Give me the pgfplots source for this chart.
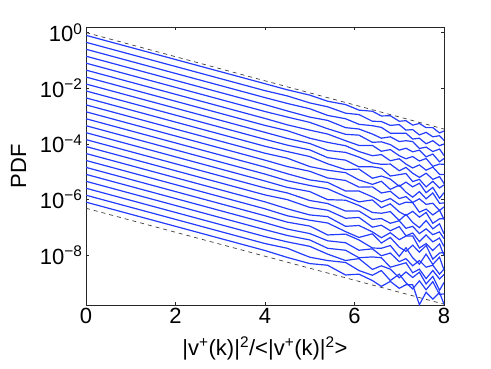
\documentclass[border=0pt]{standalone}
\usepackage{fontspec}
\setmainfont{Liberation Sans}
\usepackage{pgfplots}
\pgfplotsset{compat=1.18}
\definecolor{mblue}{RGB}{35,60,255}
\tikzset{pdfline/.style={color=mblue, line width=1.2pt}}
% y values are log10(PDF); the axis is labelled in decades

\begin{document}
\begin{tikzpicture}
\begin{axis}[
    scale only axis,
    width=358pt, height=278pt,
    xmin=0, xmax=8, ymin=-9.8, ymax=0.2,
    xtick={0,2,4,6,8}, xticklabels={0,2,4,6,8},
    ytick={-8,-6,-4,-2,0},
    yticklabels={10\textsuperscript{−8},10\textsuperscript{−6},10\textsuperscript{−4},10\textsuperscript{−2},10\textsuperscript{0}},
    minor tick num=0,
    tick align=inside, major tick length=3pt,
    tick style={black!85, thin},
    axis line style={black!85, thin},
    ticklabel style={font=\fontsize{22}{24}\selectfont},
    label style={font=\fontsize{22}{24}\selectfont},
    xlabel={|v\textsuperscript{+}(k)|\textsuperscript{2}/<|v\textsuperscript{+}(k)|\textsuperscript{2}>},
    ylabel={PDF},
    xlabel style={yshift=-6pt},
    ylabel shift=7pt,
]
% reference slopes
\addplot[black!75, line width=0.7pt, dash pattern=on 4pt off 4pt] coordinates {(0,0) (8,-3.47)};
\addplot[black!75, line width=0.7pt, dash pattern=on 4pt off 4pt] coordinates {(0,-6.32) (8,-9.77)};

\addplot[pdfline] coordinates {(0,-0.10)(2,-0.97)(4,-1.84)(4.5,-2.06)(5,-2.25)(5.4,-2.47)(5.8,-2.59)(6.1,-2.79)(6.4,-2.83)(6.6,-3.00)(6.8,-2.99)(7,-3.19)(7.15,-3.17)(7.3,-3.33)(7.45,-3.27)(7.6,-3.42)(7.75,-3.42)(7.9,-3.61)(8,-3.54)};
\addplot[pdfline] coordinates {(0,-0.35)(2,-1.22)(4,-2.09)(4.5,-2.28)(5,-2.53)(5.4,-2.67)(5.8,-2.90)(6.1,-2.95)(6.4,-3.19)(6.6,-3.20)(6.8,-3.34)(7,-3.31)(7.15,-3.51)(7.3,-3.49)(7.45,-3.68)(7.6,-3.59)(7.75,-3.75)(7.9,-3.71)(8,-3.88)};
\addplot[pdfline] coordinates {(0,-0.60)(2,-1.47)(4,-2.34)(4.5,-2.55)(5,-2.74)(5.4,-2.98)(5.8,-3.10)(6.1,-3.30)(6.4,-3.35)(6.6,-3.41)(6.8,-3.62)(7,-3.62)(7.15,-3.62)(7.3,-3.83)(7.45,-3.80)(7.6,-4.00)(7.75,-3.89)(7.9,-4.07)(8,-4.01)};
\addplot[pdfline] coordinates {(0,-0.85)(2,-1.72)(4,-2.59)(4.5,-2.82)(5,-3.04)(5.4,-3.16)(5.8,-3.42)(6.1,-3.47)(6.4,-3.65)(6.6,-3.80)(6.8,-3.75)(7,-3.92)(7.15,-3.89)(7.3,-3.92)(7.45,-4.17)(7.6,-4.12)(7.75,-4.28)(7.9,-4.19)(8,-4.42)};
\addplot[pdfline] coordinates {(0,-1.10)(2,-1.97)(4,-2.84)(4.5,-3.04)(5,-3.23)(5.4,-3.46)(5.8,-3.66)(6.1,-3.69)(6.4,-3.95)(6.6,-3.93)(6.8,-4.03)(7,-4.23)(7.15,-4.16)(7.3,-4.29)(7.45,-4.23)(7.6,-4.47)(7.75,-4.37)(7.9,-4.65)(8,-4.53)};
\addplot[pdfline] coordinates {(0,-1.35)(2,-2.22)(4,-3.09)(4.5,-3.32)(5,-3.51)(5.4,-3.65)(5.8,-3.89)(6.1,-4.06)(6.4,-4.06)(6.6,-4.27)(6.8,-4.21)(7,-4.43)(7.15,-4.54)(7.3,-4.46)(7.45,-4.62)(7.6,-4.53)(7.75,-4.81)(7.9,-4.73)(8,-4.74)};
\addplot[pdfline] coordinates {(0,-1.60)(2,-2.47)(4,-3.34)(4.5,-3.53)(5,-3.80)(5.4,-3.95)(5.8,-4.07)(6.1,-4.28)(6.4,-4.43)(6.6,-4.39)(6.8,-4.61)(7,-4.54)(7.15,-4.73)(7.3,-4.87)(7.45,-4.76)(7.6,-4.95)(7.75,-4.84)(7.9,-5.10)(8,-5.11)};
\addplot[pdfline] coordinates {(0,-1.85)(2,-2.72)(4,-3.59)(4.5,-3.81)(5,-3.99)(5.4,-4.24)(5.8,-4.31)(6.1,-4.48)(6.4,-4.69)(6.6,-4.74)(6.8,-4.73)(7,-4.97)(7.15,-4.85)(7.3,-5.06)(7.45,-5.21)(7.6,-5.06)(7.75,-5.28)(7.9,-5.18)(8,-5.43)};
\addplot[pdfline] coordinates {(0,-2.10)(2,-2.97)(4,-3.84)(4.5,-4.05)(5,-4.22)(5.4,-4.50)(5.8,-4.59)(6.1,-4.83)(6.4,-4.83)(6.6,-4.88)(6.8,-5.16)(7,-5.11)(7.15,-5.07)(7.3,-5.36)(7.45,-5.28)(7.6,-5.55)(7.75,-5.35)(7.9,-5.59)(8,-5.48)};
\addplot[pdfline] coordinates {(0,-2.35)(2,-3.22)(4,-4.09)(4.5,-4.28)(5,-4.46)(5.4,-4.72)(5.8,-4.93)(6.1,-4.91)(6.4,-5.24)(6.6,-5.16)(6.8,-5.27)(7,-5.53)(7.15,-5.38)(7.3,-5.55)(7.45,-5.42)(7.6,-5.76)(7.75,-5.57)(7.9,-5.96)(8,-5.76)};
\addplot[pdfline] coordinates {(0,-2.60)(2,-3.47)(4,-4.34)(4.5,-4.52)(5,-4.82)(5.4,-4.95)(5.8,-5.04)(6.1,-5.30)(6.4,-5.46)(6.6,-5.35)(6.8,-5.64)(7,-5.49)(7.15,-5.74)(7.3,-5.92)(7.45,-5.72)(7.6,-5.98)(7.75,-5.77)(7.9,-6.14)(8,-6.13)};
\addplot[pdfline] coordinates {(0,-2.85)(2,-3.72)(4,-4.59)(4.5,-4.82)(5,-4.99)(5.4,-5.23)(5.8,-5.32)(6.1,-5.56)(6.4,-5.55)(6.6,-5.77)(6.8,-5.71)(7,-5.97)(7.15,-5.90)(7.3,-6.11)(7.45,-5.98)(7.6,-6.18)(7.75,-6.14)(7.9,-6.40)(8,-6.27)};
\addplot[pdfline] coordinates {(0,-3.10)(2,-3.97)(4,-4.84)(4.5,-5.08)(5,-5.30)(5.4,-5.39)(5.8,-5.70)(6.1,-5.70)(6.4,-5.91)(6.6,-6.09)(6.8,-5.97)(7,-6.19)(7.15,-6.10)(7.3,-6.12)(7.45,-6.46)(7.6,-6.35)(7.75,-6.56)(7.9,-6.39)(8,-6.72)};
\addplot[pdfline] coordinates {(0,-3.35)(2,-4.22)(4,-5.09)(4.5,-5.33)(5,-5.50)(5.4,-5.62)(5.8,-5.90)(6.1,-6.09)(6.4,-6.02)(6.6,-6.30)(6.8,-6.16)(7,-6.45)(7.15,-6.58)(7.3,-6.43)(7.45,-6.64)(7.6,-6.47)(7.75,-6.86)(7.9,-6.70)(8,-6.70)};
\addplot[pdfline] coordinates {(0,-3.60)(2,-4.47)(4,-5.34)(4.5,-5.57)(5,-5.72)(5.4,-6.01)(5.8,-6.03)(6.1,-6.22)(6.4,-6.47)(6.6,-6.50)(6.8,-6.44)(7,-6.76)(7.15,-6.54)(7.3,-6.83)(7.45,-7.02)(7.6,-6.76)(7.75,-7.06)(7.9,-6.88)(8,-7.24)};
\addplot[pdfline] coordinates {(0,-3.85)(2,-4.72)(4,-5.59)(4.5,-5.77)(5,-6.04)(5.4,-6.15)(5.8,-6.42)(6.1,-6.42)(6.4,-6.72)(6.6,-6.69)(6.8,-6.86)(7,-6.77)(7.15,-7.04)(7.3,-6.97)(7.45,-7.23)(7.6,-7.06)(7.75,-7.27)(7.9,-7.17)(8,-7.41)};
\addplot[pdfline] coordinates {(0,-4.10)(2,-4.97)(4,-5.84)(4.5,-6.01)(5,-6.29)(5.4,-6.39)(5.8,-6.68)(6.1,-6.65)(6.4,-7.00)(6.6,-6.93)(6.8,-7.13)(7,-6.98)(7.15,-7.31)(7.3,-7.21)(7.45,-7.52)(7.6,-7.28)(7.75,-7.53)(7.9,-7.39)(8,-7.69)};
\addplot[pdfline] coordinates {(0,-4.35)(2,-5.22)(4,-6.09)(4.5,-6.34)(5,-6.56)(5.4,-6.62)(5.8,-6.97)(6.1,-6.94)(6.4,-7.17)(6.6,-7.38)(6.8,-7.20)(7,-7.45)(7.15,-7.32)(7.3,-7.32)(7.45,-7.75)(7.6,-7.59)(7.75,-7.84)(7.9,-7.60)(8,-8.02)};
\addplot[pdfline] coordinates {(0,-4.60)(2,-5.47)(4,-6.34)(4.5,-6.59)(5,-6.75)(5.4,-6.85)(5.8,-7.16)(6.1,-7.37)(6.4,-7.24)(6.6,-7.57)(6.8,-7.37)(7,-7.72)(7.15,-7.87)(7.3,-7.65)(7.45,-7.90)(7.6,-7.66)(7.75,-8.15)(7.9,-7.93)(8,-7.91)};
\addplot[pdfline] coordinates {(0,-4.85)(2,-5.72)(4,-6.59)(4.5,-6.82)(5,-6.96)(5.4,-7.28)(5.8,-7.25)(6.1,-7.46)(6.4,-7.75)(6.6,-7.76)(6.8,-7.66)(7,-8.05)(7.15,-7.74)(7.3,-8.10)(7.45,-8.33)(7.6,-7.97)(7.75,-8.34)(7.9,-8.08)(8,-8.54)};
\addplot[pdfline] coordinates {(0,-5.10)(2,-5.97)(4,-6.84)(4.5,-7.07)(5,-7.23)(5.4,-7.49)(5.8,-7.56)(6.1,-7.83)(6.4,-7.78)(6.6,-8.03)(6.8,-7.93)(7,-8.24)(7.15,-8.13)(7.3,-8.39)(7.45,-8.20)(7.6,-8.44)(7.75,-8.37)(7.9,-8.69)(8,-8.51)};
\addplot[pdfline] coordinates {(0,-5.35)(2,-6.22)(4,-7.09)(4.5,-7.30)(5,-7.46)(5.4,-7.76)(5.8,-7.83)(6.1,-8.10)(6.4,-8.07)(6.6,-8.10)(6.8,-8.44)(7,-8.35)(7.15,-8.28)(7.3,-8.64)(7.45,-8.51)(7.6,-8.85)(7.75,-8.56)(7.9,-8.86)(8,-8.70)};
\addplot[pdfline] coordinates {(0,-5.60)(2,-6.47)(4,-7.34)(4.5,-7.53)(5,-7.69)(5.4,-7.97)(5.8,-8.20)(6.1,-8.13)(6.4,-8.52)(6.6,-8.39)(6.8,-8.51)(7,-8.82)(7.15,-8.61)(7.3,-8.81)(7.45,-8.62)(7.6,-9.04)(7.75,-8.77)(7.9,-9.27)(8,-8.99)};
\addplot[pdfline] coordinates {(0,-5.85)(2,-6.72)(4,-7.59)(4.5,-7.76)(5,-8.08)(5.4,-8.20)(5.8,-8.27)(6.1,-8.56)(6.4,-8.73)(6.6,-8.56)(6.8,-8.92)(7,-8.69)(7.15,-9.00)(7.3,-9.22)(7.45,-8.93)(7.6,-9.25)(7.75,-8.96)(7.9,-9.42)(8,-9.40)};
\addplot[pdfline] coordinates {(0,-6.10)(2,-6.97)(4,-7.84)(4.5,-8.09)(5,-8.31)(5.4,-8.37)(5.8,-8.72)(6.1,-8.69)(6.4,-8.92)(6.6,-9.13)(6.8,-8.95)(7,-9.20)(7.15,-9.07)(7.3,-9.07)(7.45,-9.79)(7.6,-9.34)(7.75,-9.59)(7.9,-9.35)(8,-9.77)};
\end{axis}
\useasboundingbox (current axis.south west) ++(-86pt,-63pt) rectangle ([xshift=47pt,yshift=27pt]current axis.north east);
\end{tikzpicture}
\end{document}
